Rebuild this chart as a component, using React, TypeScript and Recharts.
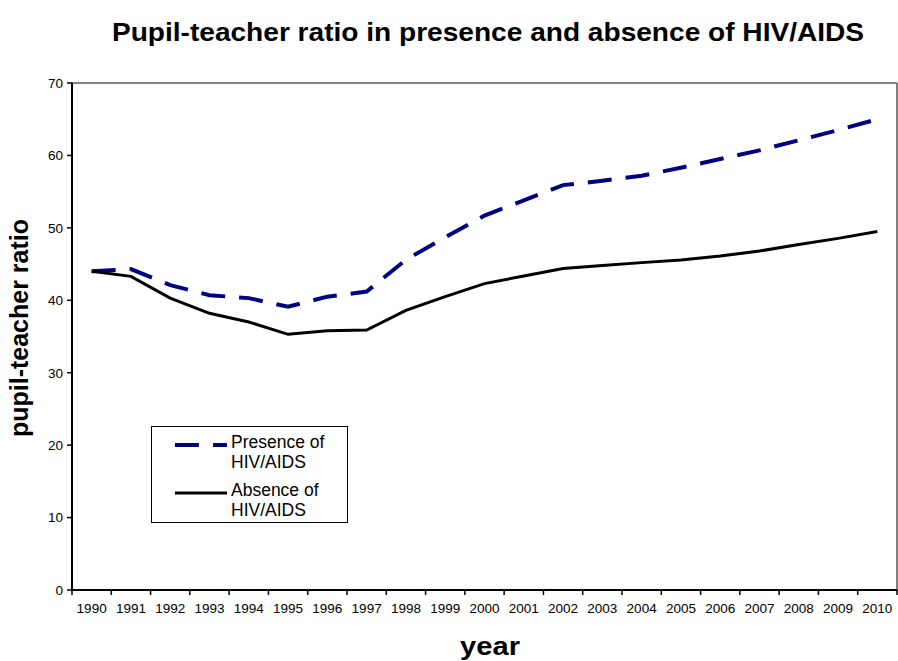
import React from "react";
import { LineChart, Line, XAxis, YAxis, ReferenceLine } from "recharts";

const years = [1990, 1991, 1992, 1993, 1994, 1995, 1996, 1997, 1998, 1999, 2000, 2001, 2002, 2003, 2004, 2005, 2006, 2007, 2008, 2009, 2010];
const presence = [44.0, 44.3, 42.1, 40.7, 40.3, 39.1, 40.5, 41.2, 45.6, 48.7, 51.7, 53.8, 55.9, 56.5, 57.2, 58.3, 59.5, 60.7, 62.1, 63.5, 65.0];
const absence = [44.0, 43.3, 40.3, 38.2, 37.0, 35.3, 35.8, 35.9, 38.6, 40.5, 42.3, 43.35, 44.4, 44.8, 45.2, 45.55, 46.1, 46.8, 47.7, 48.55, 49.5];
const yTicks = [0, 10, 20, 30, 40, 50, 60, 70];
const boundaryTicks = [...years.map((y) => y - 0.5), years[years.length - 1] + 0.5];

const title = "Pupil-teacher ratio in presence and absence of HIV/AIDS";
const yLabel = "pupil-teacher ratio";
const xLabel = "year";
const seriesNames = ["Presence of HIV/AIDS", "Absence of HIV/AIDS"];

const data = years.map((year, i) => ({ year, presence: presence[i], absence: absence[i] }));

const FONT = "'Liberation Sans', Arial, sans-serif";
const domainX: [number, number] = [years[0] - 0.5, years[years.length - 1] + 0.5];

export default function App() {
  return (
    <div style={{ position: "relative", width: 898, height: 661, fontFamily: FONT, background: "#fff" }}>
      <style>{"html,body{margin:0;padding:0;overflow:hidden;}"}</style>
      <LineChart
        width={898}
        height={661}
        data={data}
        margin={{ top: 83, right: 1, bottom: 40, left: 28 }}
        style={{ fontFamily: FONT }}
      >
        <XAxis
          xAxisId="bounds"
          dataKey="year"
          type="number"
          domain={domainX}
          ticks={boundaryTicks}
          tickFormatter={() => ""}
          height={1}
          axisLine={{ stroke: "#000", strokeWidth: 2 }}
          tickLine={{ stroke: "#000", strokeWidth: 1.5 }}
          tickSize={5}
          allowDataOverflow
        />
        <XAxis
          xAxisId="years"
          dataKey="year"
          type="number"
          domain={domainX}
          ticks={years}
          interval={0}
          height={30}
          axisLine={false}
          tickLine={false}
          tickSize={5}
          tickMargin={7}
          tick={{ fill: "#000", fontSize: 13.5, fontFamily: FONT }}
          allowDataOverflow
        />
        <YAxis
          type="number"
          domain={[0, 70]}
          ticks={yTicks}
          interval={0}
          width={44}
          axisLine={{ stroke: "#000", strokeWidth: 2 }}
          tickLine={{ stroke: "#000", strokeWidth: 1.5 }}
          tickSize={5}
          tickMargin={4}
          tick={{ fill: "#000", fontSize: 13.5, fontFamily: FONT }}
        />
        <ReferenceLine y={70} xAxisId="years" stroke="#808080" strokeWidth={2} ifOverflow="visible" />
        <ReferenceLine x={domainX[1]} xAxisId="years" stroke="#808080" strokeWidth={2} ifOverflow="visible" />
        <Line
          xAxisId="bounds"
          type="linear"
          dataKey="absence"
          stroke="none"
          dot={false}
          activeDot={false}
          legendType="none"
          isAnimationActive={false}
        />
        <Line
          xAxisId="years"
          type="linear"
          dataKey="presence"
          name={seriesNames[0]}
          stroke="#000080"
          strokeWidth={4}
          strokeDasharray="24 14"
          dot={false}
          activeDot={false}
          isAnimationActive={false}
        />
        <Line
          xAxisId="years"
          type="linear"
          dataKey="absence"
          name={seriesNames[1]}
          stroke="#000"
          strokeWidth={3}
          dot={false}
          activeDot={false}
          isAnimationActive={false}
        />
      </LineChart>

      <div
        style={{
          position: "absolute",
          left: 488,
          top: 17,
          transform: "translateX(-50%) scaleX(1.08)",
          whiteSpace: "nowrap",
          fontSize: 26,
          fontWeight: "bold",
          color: "#000",
          lineHeight: "30px",
        }}
      >
        {title}
      </div>

      <div
        style={{
          position: "absolute",
          left: 19,
          top: 328,
          transform: "translate(-50%, -50%) rotate(-90deg)",
          whiteSpace: "nowrap",
          fontSize: 25,
          fontWeight: "bold",
          color: "#000",
          lineHeight: "28px",
        }}
      >
        {yLabel}
      </div>

      <div
        style={{
          position: "absolute",
          left: 490,
          top: 646,
          transform: "translate(-50%, -50%) scaleX(1.12)",
          whiteSpace: "nowrap",
          fontSize: 26,
          fontWeight: "bold",
          color: "#000",
          lineHeight: "28px",
        }}
      >
        {xLabel}
      </div>

      <div
        style={{
          position: "absolute",
          left: 151,
          top: 426,
          width: 195,
          height: 95,
          border: "1px solid #000",
          background: "#fff",
          fontSize: 17.5,
          color: "#000",
          lineHeight: "20px",
        }}
      >
        {[
          { name: seriesNames[0], color: "#000080", dash: true, w: 4 },
          { name: seriesNames[1], color: "#000", dash: false, w: 3 },
        ].map((s, i) => {
          const parts = s.name.split(" ");
          const first = parts.slice(0, 2).join(" ");
          const second = parts.slice(2).join(" ");
          return (
            <div key={i} style={{ position: "absolute", left: 0, top: 5 + i * 48, width: 195, height: 44 }}>
              <svg width={54} height={10} style={{ position: "absolute", left: 23, top: 8 }}>
                <line x1={0} y1={5} x2={52} y2={5} stroke={s.color} strokeWidth={s.w} strokeDasharray={s.dash ? "24 14" : undefined} />
              </svg>
              <div style={{ position: "absolute", left: 79, top: 0, whiteSpace: "nowrap" }}>
                <div>{first}</div>
                <div>{second}</div>
              </div>
            </div>
          );
        })}
      </div>
    </div>
  );
}
